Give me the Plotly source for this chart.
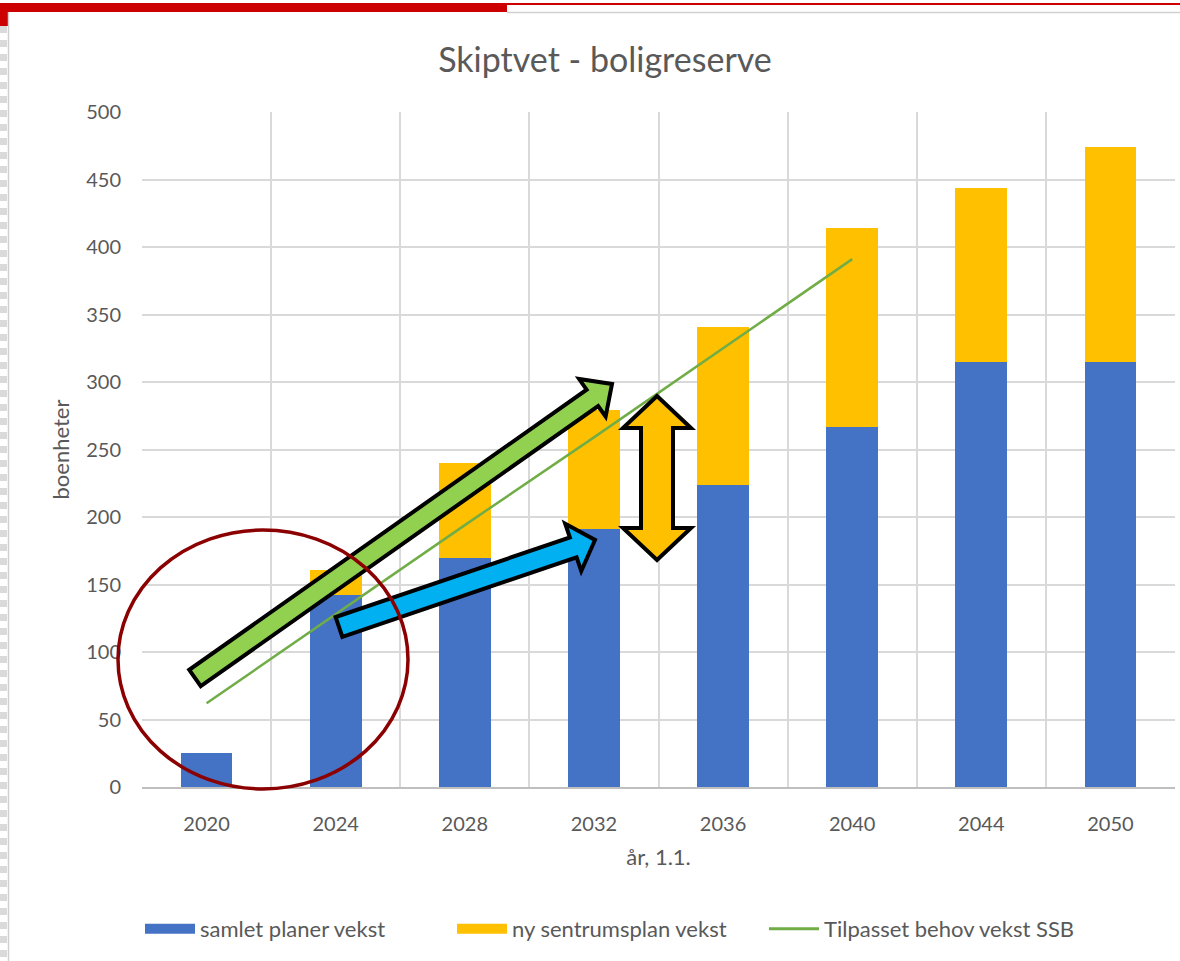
import plotly.graph_objects as go

# Chart data
years = ["2020", "2024", "2028", "2032", "2036", "2040", "2044", "2050"]
samlet_planer = [25, 142, 170, 191, 224, 267, 315, 315]
ny_sentrumsplan = [0, 19, 70, 88, 117, 147, 129, 159]
behov_ssb = [62, 128, 194, 259, 325, 391, None, None]

BLUE, YELLOW, GREEN = "#4472C4", "#FFC000", "#70AD47"

# Page / plot geometry (pixels)
W, H = 1180, 961
L, R, T, B = 142, 5, 112, 174
PW, PH = W - L - R, H - T - B

FONT = "Lato, 'Open Sans', sans-serif"
GREY = "#595959"


def px(x):
    # pixel x -> paper x
    return (x - L) / PW


def py(y):
    # pixel y -> paper y
    return (H - B - y) / PH


def poly_path(points):
    return "M " + " L ".join(f"{px(x):.5f},{py(y):.5f}" for x, y in points) + " Z"


def arrow_points(tail, tip, shaft_w, head_w, head_len):
    dx, dy = tip[0] - tail[0], tip[1] - tail[1]
    n = (dx ** 2 + dy ** 2) ** 0.5
    ux, uy = dx / n, dy / n
    nx, ny = -uy, ux
    bx, by = tip[0] - ux * head_len, tip[1] - uy * head_len
    s, h = shaft_w / 2, head_w / 2
    return [
        (tail[0] + nx * s, tail[1] + ny * s),
        (bx + nx * s, by + ny * s),
        (bx + nx * h, by + ny * h),
        tip,
        (bx - nx * h, by - ny * h),
        (bx - nx * s, by - ny * s),
        (tail[0] - nx * s, tail[1] - ny * s),
    ]


def double_arrow_points(cx, top, bottom, shaft_w, head_w, head_len):
    s, h = shaft_w / 2, head_w / 2
    return [
        (cx, top),
        (cx + h, top + head_len),
        (cx + s, top + head_len),
        (cx + s, bottom - head_len),
        (cx + h, bottom - head_len),
        (cx, bottom),
        (cx - h, bottom - head_len),
        (cx - s, bottom - head_len),
        (cx - s, top + head_len),
        (cx - h, top + head_len),
    ]


fig = go.Figure()

fig.add_trace(go.Bar(
    x=years, y=samlet_planer, name="samlet planer vekst",
    marker=dict(color=BLUE, line=dict(width=0)), showlegend=False,
))
fig.add_trace(go.Bar(
    x=years, y=ny_sentrumsplan, name="ny sentrumsplan vekst",
    marker=dict(color=YELLOW, line=dict(width=0)), showlegend=False,
))
fig.add_trace(go.Scatter(
    x=years, y=behov_ssb, name="Tilpasset behov vekst SSB",
    mode="lines", line=dict(color=GREEN, width=2.5), showlegend=False,
))

# legend entries (Excel-style wide swatches)
for name, color, width in [
    ("samlet planer vekst", BLUE, 13),
    ("ny sentrumsplan vekst", YELLOW, 13),
    ("Tilpasset behov vekst SSB", GREEN, 3),
]:
    fig.add_trace(go.Scatter(
        x=[None], y=[None], mode="lines", name=name,
        line=dict(color=color, width=width), hoverinfo="skip",
    ))

# Overlay drawings (arrows + circle) placed on the page
shapes = [
    dict(type="path", xref="paper", yref="paper",
         path=poly_path(arrow_points((195, 678), (612, 384), 20, 46, 24)),
         fillcolor="#92D050", line=dict(color="black", width=4)),
    dict(type="path", xref="paper", yref="paper",
         path=poly_path(arrow_points((339, 627), (595, 540), 21, 50, 23)),
         fillcolor="#00B0F0", line=dict(color="black", width=4)),
    dict(type="path", xref="paper", yref="paper",
         path=poly_path(double_arrow_points(657, 396, 560, 32, 68, 32)),
         fillcolor="#FFC000", line=dict(color="black", width=4)),
    dict(type="circle", xref="paper", yref="paper",
         x0=px(118), x1=px(408), y0=py(789), y1=py(530),
         line=dict(color="#8B0000", width=3.5)),
    # slide frame bits at the top / left edge
    dict(type="rect", xref="paper", yref="paper",
         x0=px(0), x1=px(507), y0=py(12), y1=py(3),
         fillcolor="#CC0000", line=dict(width=0)),
    dict(type="rect", xref="paper", yref="paper",
         x0=px(0), x1=px(8), y0=py(26), y1=py(3),
         fillcolor="#CC0000", line=dict(width=0)),
    dict(type="line", xref="paper", yref="paper",
         x0=px(507), x1=px(1180), y0=py(4), y1=py(4),
         line=dict(color="#CC0000", width=2)),
    dict(type="line", xref="paper", yref="paper",
         x0=px(507), x1=px(1180), y0=py(12.5), y1=py(12.5),
         line=dict(color="#D0D0D0", width=1.5)),
    dict(type="line", xref="paper", yref="paper",
         x0=px(8.5), x1=px(8.5), y0=py(12), y1=py(961),
         line=dict(color="#D0D0D0", width=1.5)),
    dict(type="line", xref="paper", yref="paper",
         x0=px(3.5), x1=px(3.5), y0=py(26), y1=py(961),
         line=dict(color="#DADADA", width=7, dash="dot")),
]

fig.update_layout(
    width=W, height=H,
    margin=dict(l=L, r=R, t=T, b=B),
    paper_bgcolor="white", plot_bgcolor="white",
    barmode="stack", bargap=0.6,
    font=dict(family=FONT, size=20, color=GREY),
    title=dict(
        text="Skiptvet - boligreserve",
        x=px(605), xref="paper", xanchor="center",
        y=1 - 60 / H, yref="container", yanchor="middle",
        font=dict(size=34, color=GREY),
    ),
    xaxis=dict(
        type="category", tickson="boundaries",
        showgrid=True, gridcolor="#D9D9D9", gridwidth=1.5,
        showline=True, linecolor="#BFBFBF", linewidth=1.5,
        ticks="", ticklabelstandoff=18,
        title=dict(text="år, 1.1.", standoff=16, font=dict(size=22, color=GREY)),
    ),
    yaxis=dict(
        range=[0, 500], dtick=50,
        showgrid=True, gridcolor="#D9D9D9", gridwidth=1.5,
        zeroline=False, showline=False, ticks="",
        ticklabelstandoff=20,
        title=dict(text="boenheter", standoff=10, font=dict(size=22, color=GREY)),
    ),
    legend=dict(
        orientation="h", x=px(140), xanchor="left",
        y=py(929), yanchor="middle",
        font=dict(size=22, color=GREY), traceorder="normal",
        itemwidth=50, entrywidth=247, entrywidthmode="pixels",
    ),
    shapes=shapes,
    showlegend=True,
)

fig.write_html(
    "out.html",
    config={"displayModeBar": False},
    post_script="document.body.style.margin='0';",
)
